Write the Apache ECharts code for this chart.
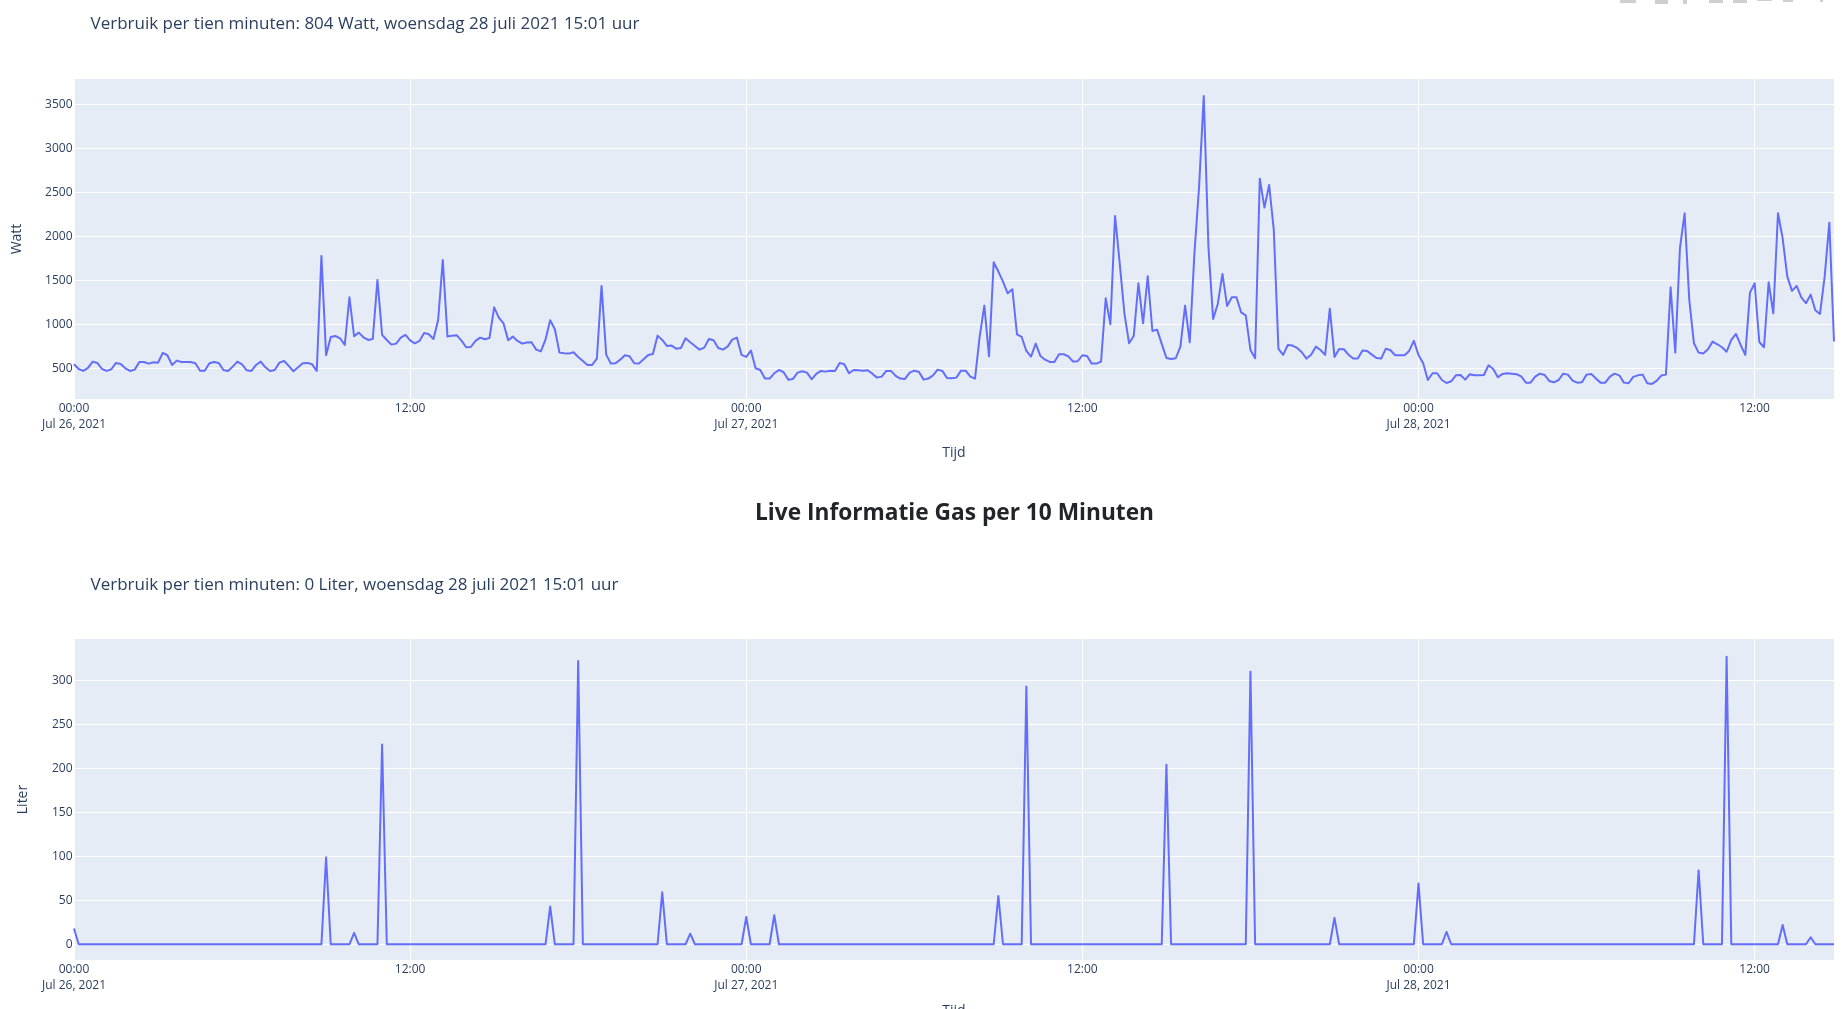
<!DOCTYPE html>
<html>
<head>
<meta charset="utf-8">
<style>html,body{margin:0;padding:0;background:#fff;overflow:hidden}#c{width:1842px;height:1009px}</style>
<script src="https://cdn.jsdelivr.net/npm/echarts@6/dist/echarts.min.js"></script>
</head>
<body>
<div id="c"></div>
<script>
const title = 'Live Informatie Gas per 10 Minuten';
const subPower = 'Verbruik per tien minuten: 804 Watt, woensdag 28 juli 2021 15:01 uur';
const subGas = 'Verbruik per tien minuten: 0 Liter, woensdag 28 juli 2021 15:01 uur';
const powerTicks = [500,1000,1500,2000,2500,3000,3500];
const gasTicks = [0,50,100,150,200,250,300];
const watt = [
545,492,470,504,576,561,492,470,489,561,
549,500,470,485,572,572,553,568,564,674,
648,538,587,572,572,572,557,473,473,557,
572,561,481,470,519,576,545,477,470,538,
576,511,470,481,564,583,527,466,511,557,
561,545,470,1777,648,856,867,841,765,1307,
864,905,852,822,833,1504,879,822,769,780,
848,879,818,784,811,902,886,833,1049,1731,
860,871,875,814,739,742,811,848,830,845,
1193,1076,1011,818,860,811,780,792,795,712,
693,826,1045,943,678,670,667,682,629,583,
538,538,610,1436,655,553,557,598,648,636,
557,553,602,652,663,871,822,754,758,723,
731,841,795,754,712,735,833,818,731,712,
746,826,848,652,629,701,500,481,383,383,
443,481,455,371,379,451,466,451,375,436,
470,462,473,470,561,545,443,481,477,473,
477,439,394,405,470,470,413,383,379,451,
473,458,371,383,420,485,470,390,386,394,
473,473,405,383,860,1212,636,1705,1599,1485,
1352,1398,886,856,697,633,780,640,598,572,
572,659,659,636,576,580,648,640,553,553,
576,1295,1000,2231,1693,1125,784,867,1466,1011,
1546,924,939,777,617,606,614,746,1212,795,
1807,2564,3595,1883,1061,1231,1572,1208,1307,1307,
1136,1102,708,614,2655,2326,2583,2072,720,652,
765,758,731,682,610,655,746,708,652,1178,
629,720,716,655,610,610,701,697,655,617,
610,723,705,648,648,648,697,811,652,557,
367,443,443,367,333,352,420,424,371,432,
420,420,424,534,492,398,436,443,439,432,
409,337,337,405,439,424,356,341,367,439,
428,360,337,341,428,436,383,337,337,405,
439,420,337,330,402,420,428,330,322,356,
417,428,1420,678,1864,2261,1277,784,678,667,
716,803,773,739,689,822,890,765,652,1360,
1466,799,739,1477,1125,2261,1977,1542,1379,1436,
1307,1239,1337,1159,1117,1542,2155,804
];
const liter = [
18,0,0,0,0,0,0,0,0,0,0,0,0,0,0,0,0,0,0,0,
0,0,0,0,0,0,0,0,0,0,0,0,0,0,0,0,0,0,0,0,
0,0,0,0,0,0,0,0,0,0,0,0,0,0,99,0,0,0,0,0,
13,0,0,0,0,0,227,0,0,0,0,0,0,0,0,0,0,0,0,0,
0,0,0,0,0,0,0,0,0,0,0,0,0,0,0,0,0,0,0,0,
0,0,43,0,0,0,0,0,322,0,0,0,0,0,0,0,0,0,0,0,
0,0,0,0,0,0,59,0,0,0,0,0,12,0,0,0,0,0,0,0,
0,0,0,0,31,0,0,0,0,0,33,0,0,0,0,0,0,0,0,0,
0,0,0,0,0,0,0,0,0,0,0,0,0,0,0,0,0,0,0,0,
0,0,0,0,0,0,0,0,0,0,0,0,0,0,0,0,0,0,55,0,
0,0,0,0,293,0,0,0,0,0,0,0,0,0,0,0,0,0,0,0,
0,0,0,0,0,0,0,0,0,0,0,0,0,0,204,0,0,0,0,0,
0,0,0,0,0,0,0,0,0,0,0,0,310,0,0,0,0,0,0,0,
0,0,0,0,0,0,0,0,0,0,30,0,0,0,0,0,0,0,0,0,
0,0,0,0,0,0,0,0,69,0,0,0,0,0,14,0,0,0,0,0,
0,0,0,0,0,0,0,0,0,0,0,0,0,0,0,0,0,0,0,0,
0,0,0,0,0,0,0,0,0,0,0,0,0,0,0,0,0,0,0,0,
0,0,0,0,0,0,0,0,84,0,0,0,0,0,327,0,0,0,0,0,
0,0,0,0,0,0,22,0,0,0,0,0,8,0,0,0,0,0
];
const pad = n => String(n).padStart(2, '0');
const dayNames = ['Jul 26, 2021', 'Jul 27, 2021', 'Jul 28, 2021'];
const times = watt.map((_, i) => {
  const m = i * 10, d = Math.floor(m / 1440), h = Math.floor((m % 1440) / 60), mm = m % 60;
  return dayNames[d] + '|' + pad(h) + ':' + pad(mm);
});
const FONT = '"Open Sans"';
const INK = '#2a3f5f';
const fmtX = v => {
  const [d, t] = v.split('|');
  return t === '00:00' ? t + '\n' + d : t;
};
function xAxis(gridIndex, nameGap) {
  return {
    gridIndex, type: 'category', data: times, boundaryGap: false,
    name: 'Tijd', nameLocation: 'middle', nameGap,
    nameTextStyle: {fontFamily: FONT, fontSize: 14, color: INK},
    axisLine: {show: false}, axisTick: {show: false},
    axisLabel: {interval: 71, formatter: fmtX, fontFamily: FONT, fontSize: 12, color: INK, lineHeight: 16, margin: 1.5, hideOverlap: false},
    splitLine: {show: true, interval: 71, lineStyle: {color: '#fff', width: 1}}
  };
}
function yAxis(gridIndex, name, nameGap, min, max, ticks) {
  return {
    gridIndex, type: 'value', min, max, name, nameLocation: 'middle', nameGap,
    nameTextStyle: {fontFamily: FONT, fontSize: 14, color: INK},
    axisLine: {show: false}, axisTick: {show: false, customValues: ticks},
    axisLabel: {customValues: ticks, formatter: v => String(v), fontFamily: FONT, fontSize: 12, color: INK, margin: 1.5},
    splitLine: {show: true, lineStyle: {color: '#fff', width: 1}}
  };
}
const lineStyle = {color: '#636EFA', width: 2, join: 'round'};
const icon = (x, w, h) => ({type: 'rect', shape: {x, y: 0, width: w, height: h}, style: {fill: '#cfcfcf'}, silent: true});
const option = {
  animation: false,
  backgroundColor: '#fff',
  title: [
    {text: subPower, left: 85.5, top: 11, textStyle: {fontFamily: FONT, fontSize: 17, fontWeight: 'normal', color: INK}},
    {text: title, left: 949.5, textAlign: 'center', top: 497, textStyle: {fontFamily: FONT, fontSize: 22.7, fontWeight: 'bold', color: '#212529'}},
    {text: subGas, left: 85.5, top: 572, textStyle: {fontFamily: FONT, fontSize: 17, fontWeight: 'normal', color: INK}}
  ],
  grid: [
    {left: 74, top: 79, width: 1760, height: 320, show: true, backgroundColor: '#E5ECF6', borderWidth: 0, outerBoundsMode: 'none'},
    {left: 74, top: 639, width: 1760, height: 321, show: true, backgroundColor: '#E5ECF6', borderWidth: 0, outerBoundsMode: 'none'}
  ],
  xAxis: [xAxis(0, 47), xAxis(1, 44)],
  yAxis: [yAxis(0, 'Watt', 50, 151, 3787, powerTicks), yAxis(1, 'Liter', 44, -17.9, 347.1, gasTicks)],
  series: [
    {type: 'line', xAxisIndex: 0, yAxisIndex: 0, data: watt, showSymbol: false, lineStyle, silent: true, z: 5},
    {type: 'line', xAxisIndex: 1, yAxisIndex: 1, data: liter, showSymbol: false, lineStyle, silent: true, z: 5}
  ],
  graphic: [icon(1620,16,3), icon(1655,13,4), icon(1683,4,4), icon(1709,14,3), icon(1733,14,3), icon(1757,15,1), icon(1783,10,2), icon(1820,3,2)]
};
const chart = echarts.init(document.getElementById('c'), null, {renderer: 'canvas'});
chart.setOption(option);
</script>
</body>
</html>
